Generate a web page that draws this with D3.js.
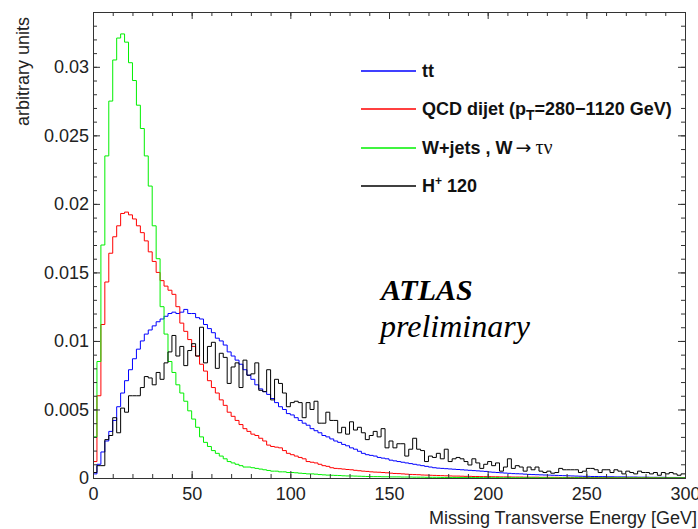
<!DOCTYPE html>
<html>
<head>
<meta charset="utf-8">
<script src="https://cdn.jsdelivr.net/npm/d3@7"></script>
<style>
  body { margin: 0; background: #fff; }
  svg { display: block; }
</style>
</head>
<body>
<svg id="chart" width="698" height="529"></svg>
<script>
(function () {
  'use strict';

  // ── Data (bin contents in units of 1e-4, 2 GeV bins from 0 to 300 GeV) ──
  var BIN_WIDTH = 2;
  var UNIT = 1e-4;

  var TTBAR = [
    3, 10, 19, 27, 34, 42, 52, 62, 71, 79,
    87, 94, 100, 105, 108, 111, 114, 116, 118, 120,
    121, 120, 121, 123, 120, 120, 117, 116, 112, 109,
    106, 102, 100, 97, 92, 89, 86, 83, 79, 75,
    72, 68, 65, 63, 61, 58, 55, 52, 50, 47,
    46, 44, 42, 40, 38.5, 36, 34.5, 33, 31, 30,
    28.5, 27, 26, 24.5, 23.5, 22, 21, 19.5, 18, 17,
    16.5, 16, 15, 14.5, 14, 13, 12.5, 12, 11.5, 11,
    10.5, 10, 9.5, 9, 8.5, 8, 7.5, 7.2, 7, 6.8,
    6.6, 6.4, 6.2, 6, 5.8, 5.6, 5.4, 5.2, 5, 4.8,
    4.4, 4.2, 4, 3.8, 3.6, 3.4, 3.2, 3.1, 3, 2.8,
    2.6, 2.5, 2.4, 2.3, 2.2, 2.1, 2, 1.9, 1.8, 1.7,
    1.6, 1.5, 1.4, 1.3, 1.2, 1.2, 1.1, 1.1, 1, 1,
    0.9, 0.9, 0.8, 0.8, 0.8, 0.7, 0.7, 0.7, 0.6, 0.6,
    0.6, 0.5, 0.5, 0.5, 0.5, 0.4, 0.4, 0.4, 0.4, 0.3
  ];

  var QCD = [
    12, 60, 112, 143, 164, 176, 184, 193, 194, 192,
    189, 184, 179, 173, 165, 158, 150, 144, 140, 137,
    134, 125, 113, 107, 101, 96, 89, 83, 78, 71,
    66, 62, 57, 53, 48, 45, 42, 39, 36, 34,
    32, 31, 29, 27, 24, 23, 22.5, 22, 20, 18,
    17, 16, 15, 14, 12, 11.5, 11, 10, 9, 8.5,
    7.5, 7, 6.8, 6.5, 6.2, 6, 5.6, 5.3, 5, 4.8,
    4.5, 4.3, 4.2, 4, 3.8, 3.5, 3.3, 3.2, 3, 2.8,
    2.6, 2.5, 2.4, 2.2, 2.1, 2, 1.9, 1.8, 1.7, 1.6,
    1.5, 1.4, 1.4, 1.3, 1.2, 1.2, 1.1, 1.1, 1, 1,
    1, 0.9, 0.9, 0.8, 0.8, 0.8, 0.7, 0.7, 0.7, 0.6,
    0.6, 0.6, 0.6, 0.5, 0.5, 0.5, 0.5, 0.5, 0.4, 0.4,
    0.4, 0.4, 0.4, 0.4, 0.3, 0.3, 0.3, 0.3, 0.3, 0.3,
    0.3, 0.3, 0.2, 0.2, 0.2, 0.2, 0.2, 0.2, 0.2, 0.2,
    0.2, 0.2, 0.2, 0.2, 0.1, 0.1, 0.1, 0.1, 0.1, 0.1
  ];

  var WJETS = [
    30, 85, 170, 235, 275, 305, 321, 324, 318, 303,
    290, 272, 255, 235, 213, 184, 160, 125, 105, 85,
    77, 68, 62, 56, 49, 43, 37, 30, 26, 23,
    20, 18, 16, 14, 12, 11, 10, 9, 8, 8,
    7.5, 7, 6.5, 6, 5.5, 5, 5, 4.5, 4.5, 4,
    4, 3.8, 3.5, 3.3, 3, 3, 2.8, 2.5, 2.3, 2.1,
    2, 1.9, 1.8, 1.6, 1.5, 1.5, 1.4, 1.3, 1.2, 1.1,
    1, 1, 1, 0.9, 0.9, 0.8, 0.8, 0.8, 0.7, 0.7,
    0.7, 0.6, 0.6, 0.6, 0.5, 0.5, 0.5, 0.5, 0.4, 0.4,
    0.4, 0.4, 0.4, 0.3, 0.3, 0.3, 0.3, 0.3, 0.3, 0.3,
    0.3, 0.2, 0.3, 0.2, 0.2, 0.3, 0.2, 0.2, 0.2, 0.2,
    0.2, 0.2, 0.1, 0.2, 0.2, 0.1, 0.2, 0.1, 0.1, 0.2,
    0.1, 0.1, 0.2, 0.1, 0.1, 0.1, 0.1, 0.1, 0.1, 0.1,
    0.1, 0.1, 0.1, 0.1, 0.1, 0.1, 0.1, 0.1, 0.1, 0.1,
    0.1, 0.1, 0.1, 0.1, 0.1, 0.1, 0.1, 0.1, 0.1, 0.1
  ];

  var HPLUS = [
    4, 9, 9, 28, 31, 44, 33, 51, 48, 60,
    60, 60, 66, 74, 73, 68, 77, 72, 84, 92,
    104, 89, 96, 82, 93, 98, 89, 110, 84, 96,
    99, 80, 91, 88, 69, 81, 84, 66, 86, 75,
    76, 84, 64, 63, 79, 57, 72, 69, 62, 52,
    55, 56, 55, 44, 55, 50, 56, 40, 40, 48,
    42, 42, 33, 37, 32, 41, 35, 37, 33, 28,
    31, 34, 30, 36, 22, 27, 22, 25, 25, 16,
    21, 29, 21, 20, 12, 16, 15, 18, 14, 21,
    12, 14, 15, 14, 12, 9.5, 14, 11, 7, 10,
    12, 9, 11, 5, 8, 14, 7, 9, 8, 5,
    8, 6, 8, 5, 4, 5, 3.5, 4, 7, 6,
    6, 6, 6, 4, 5, 7, 7, 6, 4, 6,
    6, 4, 6, 5, 3, 5, 4, 3, 5, 4,
    4, 3, 4, 2, 4, 3, 4, 3, 2, 3
  ];

  var X_TICKS = [0, 50, 100, 150, 200, 250, 300];
  var Y_TICKS = [0, 0.005, 0.01, 0.015, 0.02, 0.025, 0.03];
  var X_DOMAIN = [0, 300];
  var Y_DOMAIN = [0, 0.034];

  var SERIES = [
    { name: 'tt', color: '#0000ff', values: TTBAR },
    { name: 'QCD', color: '#ff0000', values: QCD },
    { name: 'W', color: '#00f000', values: WJETS },
    { name: 'H', color: '#000000', values: HPLUS }
  ];

  // ── Layout ──
  var FRAME = { left: 93, top: 12, right: 685, bottom: 478 };
  var SANS = '"Liberation Sans", Arial, Helvetica, sans-serif';
  var SERIF = '"Liberation Serif", "Times New Roman", serif';
  var MAJOR = 7, MINOR = 4;
  var AXIS_COLOR = '#333';

  var svg = d3.select('#chart');

  var x = d3.scaleLinear().domain(X_DOMAIN).range([FRAME.left, FRAME.right]);
  var y = d3.scaleLinear().domain(Y_DOMAIN).range([FRAME.bottom, FRAME.top]);

  svg.append('defs').append('clipPath').attr('id', 'frame-clip')
    .append('rect')
    .attr('x', FRAME.left).attr('y', FRAME.top)
    .attr('width', FRAME.right - FRAME.left)
    .attr('height', FRAME.bottom - FRAME.top);

  // ── Histograms ──
  var line = d3.line()
    .x(function (d) { return x(d[0]); })
    .y(function (d) { return y(d[1]); })
    .curve(d3.curveStepAfter);

  var plot = svg.append('g').attr('clip-path', 'url(#frame-clip)');

  SERIES.forEach(function (s) {
    var pts = s.values.map(function (v, i) { return [i * BIN_WIDTH, v * UNIT]; });
    pts.push([s.values.length * BIN_WIDTH, s.values[s.values.length - 1] * UNIT]);
    plot.append('path')
      .datum(pts)
      .attr('fill', 'none')
      .attr('stroke', s.color)
      .attr('stroke-width', 1)
      .attr('d', line);
  });

  // ── Axes (ticks inside the frame, mirrored on top/right) ──
  var xMinor = d3.range(0, 301, 10);
  var yMinor = d3.range(0, 35).map(function (i) { return i * 0.001; });

  function styleAxis(g) {
    g.select('.domain').remove();
    g.selectAll('.tick line').attr('stroke', AXIS_COLOR);
  }

  function addAxis(axisFn, scale, values, size, tx, ty) {
    var a = axisFn(scale).tickValues(values).tickSizeInner(-size).tickSizeOuter(0).tickFormat('');
    var g = svg.append('g')
      .attr('transform', 'translate(' + tx + ',' + ty + ')')
      .call(a);
    styleAxis(g);
    return g;
  }

  var fmtY = function (d) { return d === 0 ? '0' : String(+d.toFixed(3)); };

  addAxis(d3.axisBottom, x, xMinor, MINOR, 0, FRAME.bottom);
  var xg = svg.append('g')
    .attr('transform', 'translate(0,' + FRAME.bottom + ')')
    .call(d3.axisBottom(x).tickValues(X_TICKS).tickSizeInner(-MAJOR).tickSizeOuter(0).tickPadding(9));
  styleAxis(xg);
  xg.selectAll('.tick text')
    .attr('font-family', SANS).attr('font-size', 18).attr('fill', '#222');

  addAxis(d3.axisLeft, y, yMinor, MINOR, FRAME.left, 0);
  var yg = svg.append('g')
    .attr('transform', 'translate(' + FRAME.left + ',0)')
    .call(d3.axisLeft(y).tickValues(Y_TICKS).tickFormat(fmtY).tickSizeInner(-MAJOR).tickSizeOuter(0).tickPadding(4));
  styleAxis(yg);
  yg.selectAll('.tick text')
    .attr('font-family', SANS).attr('font-size', 18).attr('fill', '#222');

  addAxis(d3.axisTop, x, xMinor, MINOR, 0, FRAME.top);
  addAxis(d3.axisTop, x, X_TICKS, MAJOR, 0, FRAME.top);
  addAxis(d3.axisRight, y, yMinor, MINOR, FRAME.right, 0);
  addAxis(d3.axisRight, y, Y_TICKS, MAJOR, FRAME.right, 0);

  // Frame
  svg.append('rect')
    .attr('x', FRAME.left + 0.5).attr('y', FRAME.top + 0.5)
    .attr('width', FRAME.right - FRAME.left).attr('height', FRAME.bottom - FRAME.top)
    .attr('fill', 'none').attr('stroke', AXIS_COLOR).attr('stroke-width', 1);

  // Axis titles
  svg.append('text')
    .attr('x', 697).attr('y', 524)
    .attr('text-anchor', 'end')
    .attr('font-family', SANS).attr('font-size', 18).attr('fill', '#222')
    .text('Missing Transverse Energy [GeV]');

  svg.append('text')
    .attr('transform', 'translate(29,17) rotate(-90)')
    .attr('text-anchor', 'end')
    .attr('font-family', SANS).attr('font-size', 18).attr('fill', '#222')
    .text('arbitrary units');

  // ── Legend ──
  var LEGEND_X0 = 361, LEGEND_X1 = 416, LEGEND_TX = 422;
  var LEGEND_Y = [71, 109, 148, 186];

  var leg = svg.append('g')
    .attr('font-family', SANS).attr('font-size', 18).attr('font-weight', 'bold').attr('fill', '#111');

  SERIES.forEach(function (s, i) {
    leg.append('line')
      .attr('x1', LEGEND_X0).attr('x2', LEGEND_X1)
      .attr('y1', LEGEND_Y[i]).attr('y2', LEGEND_Y[i])
      .attr('stroke', s.color).attr('stroke-width', 1.3);
  });

  leg.append('text').attr('x', LEGEND_TX).attr('y', LEGEND_Y[0] + 6).text('tt');

  var t1 = leg.append('text').attr('x', LEGEND_TX).attr('y', LEGEND_Y[1] + 6);
  t1.append('tspan').text('QCD dijet (p');
  t1.append('tspan').attr('dy', 5).attr('font-size', 14).text('T');
  t1.append('tspan').attr('dy', -5).text('=280\u22121120 GeV)');

  var t2 = leg.append('text').attr('x', LEGEND_TX).attr('y', LEGEND_Y[2] + 6);
  t2.append('tspan').text('W+jets , W');
  t2.append('tspan').attr('font-weight', 'normal').attr('font-family', '"DejaVu Sans", sans-serif')
    .attr('font-size', 19).attr('dx', 3).text('\u2192');
  t2.append('tspan').attr('font-weight', 'normal').attr('font-family', SERIF)
    .attr('font-size', 20).attr('dx', 4).text('\u03c4\u03bd');

  var t3 = leg.append('text').attr('x', LEGEND_TX).attr('y', LEGEND_Y[3] + 6);
  t3.append('tspan').text('H');
  t3.append('tspan').attr('dy', -7).attr('font-size', 12).text('+');
  t3.append('tspan').attr('dy', 7).text(' 120');

  // ── ATLAS label ──
  svg.append('text')
    .attr('x', 381).attr('y', 300)
    .attr('font-family', SERIF).attr('font-size', 30)
    .attr('font-weight', 'bold').attr('font-style', 'italic').attr('fill', '#000')
    .text('ATLAS');
  svg.append('text')
    .attr('x', 380).attr('y', 337)
    .attr('font-family', SERIF).attr('font-size', 32)
    .attr('font-style', 'italic').attr('fill', '#000')
    .text('preliminary');
})();
</script>
</body>
</html>
